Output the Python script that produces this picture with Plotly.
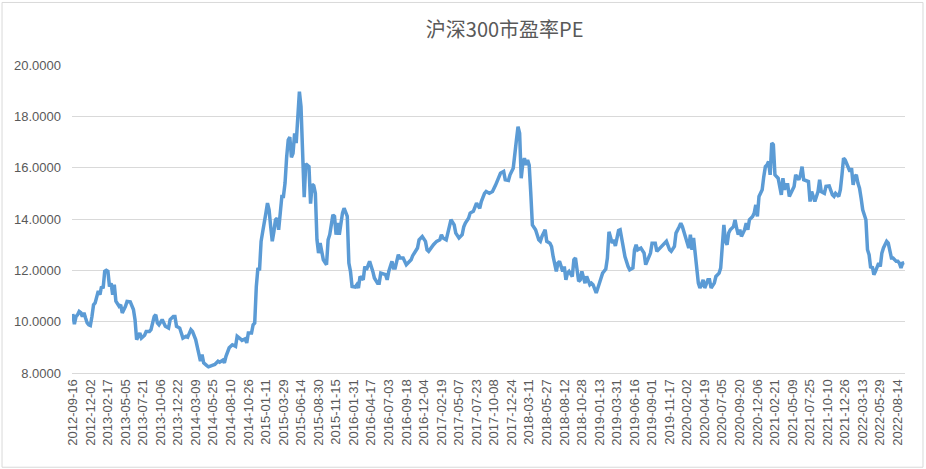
import numpy as np
import pandas as pd
import plotly.graph_objects as go

week_offset = [
    0, 1, 2, 3, 4, 5, 6, 7, 8, 9,
    10, 11, 12, 13, 14, 15, 16, 17, 18, 19,
    20, 21, 22, 23, 24, 25, 26, 27, 28, 29,
    30, 31, 33, 34, 36, 38, 39, 40, 42, 43,
    45, 46, 48, 49, 51, 52, 53, 54, 56, 57,
    58, 60, 61, 63, 64, 65, 67, 68, 69, 71,
    72, 74, 75, 77, 78, 79, 80, 81, 82, 84,
    85, 87, 89, 91, 92, 94, 95, 96, 98, 99,
    100, 102, 103, 105, 106, 108, 109, 110, 112, 113,
    114, 115, 116, 117, 118, 119, 120, 121, 122, 123,
    124, 125, 126, 127, 128, 129, 130, 131, 132, 133,
    134, 135, 136, 137, 138, 139, 140, 141, 142, 143,
    144, 145, 146, 147, 148, 149, 150, 151, 152, 153,
    154, 155, 156, 157, 159, 160, 161, 163, 164, 165,
    166, 167, 169, 170, 172, 173, 174, 175, 177, 178,
    179, 180, 182, 183, 184, 185, 186, 188, 189, 191,
    192, 193, 196, 197, 198, 200, 201, 202, 204, 205,
    207, 209, 210, 212, 213, 215, 216, 217, 219, 221,
    222, 223, 225, 226, 228, 230, 231, 232, 234, 236,
    237, 239, 240, 242, 244, 245, 246, 248, 249, 251,
    252, 253, 255, 256, 258, 259, 261, 263, 265, 267,
    268, 270, 271, 273, 274, 276, 277, 278, 279, 280,
    281, 282, 283, 284, 285, 286, 287, 288, 290, 292,
    293, 294, 296, 297, 299, 300, 301, 303, 304, 305,
    307, 308, 309, 310, 311, 313, 314, 315, 317, 318,
    319, 321, 322, 324, 325, 326, 328, 329, 330, 332,
    334, 335, 336, 338, 339, 340, 342, 343, 345, 346,
    348, 349, 351, 352, 353, 354, 356, 358, 359, 361,
    362, 363, 365, 366, 368, 370, 371, 372, 374, 375,
    377, 378, 380, 381, 382, 384, 385, 386, 387, 388,
    389, 390, 391, 392, 393, 395, 396, 398, 399, 400,
    402, 403, 405, 406, 407, 408, 409, 410, 411, 412,
    414, 415, 416, 417, 418, 419, 421, 422, 423, 424,
    426, 427, 428, 429, 430, 432, 433, 434, 435, 436,
    437, 438, 439, 440, 442, 443, 444, 445, 446, 447,
    448, 449, 451, 452, 453, 454, 455, 456, 457, 458,
    460, 461, 462, 463, 465, 466, 467, 468, 469, 471,
    472, 474, 476, 477, 478, 480, 481, 482, 483, 484,
    485, 487, 488, 489, 490, 491, 492, 493, 494, 495,
    497, 498, 499, 500, 501, 502, 503, 505, 506, 507,
    508, 510, 511, 512, 513, 514, 516, 517, 518, 519,
    520, 521,
]

pe_ratio = [
    10.3, 9.9, 10.2, 10.27, 10.4, 10.35, 10.2, 10.35, 10.14, 9.95,
    9.88, 9.85, 10.2, 10.66, 10.73, 11.0, 11.2, 11.05, 11.37, 11.3,
    11.96, 12.0, 11.96, 11.37, 11.5, 11.05, 11.44, 10.8, 10.7, 10.6,
    10.66, 10.34, 10.6, 10.79, 10.77, 10.47, 10.08, 9.3, 9.56, 9.36,
    9.47, 9.62, 9.62, 9.69, 10.2, 10.27, 9.95, 9.88, 10.08, 9.95,
    9.82, 9.75, 10.08, 10.2, 10.2, 9.82, 9.75, 9.56, 9.36, 9.43,
    9.4, 9.69, 9.62, 9.3, 9.04, 8.65, 8.46, 8.72, 8.4, 8.29,
    8.24, 8.29, 8.33, 8.46, 8.42, 8.5, 8.4, 8.65, 8.98, 9.04,
    9.1, 9.04, 9.43, 9.33, 9.27, 9.33, 9.17, 9.56, 9.56, 9.88,
    9.95, 11.37, 12.09, 12.0, 13.13, 13.5, 13.8, 14.23, 14.62, 14.36,
    13.7, 13.13, 13.5, 13.97, 14.03, 13.58, 14.23, 14.88, 14.88, 15.4,
    16.4, 17.08, 17.19, 16.4, 16.56, 17.34, 16.96, 18.3, 18.96, 18.38,
    16.82, 14.85, 16.15, 16.1, 16.04, 14.6, 15.35, 15.3, 15.0, 13.2,
    12.67, 13.06, 12.67, 12.41, 12.22, 13.19, 13.39, 14.16, 14.1, 13.39,
    13.84, 13.39, 14.23, 14.42, 14.1, 12.28, 11.96, 11.37, 11.35, 11.44,
    11.31, 11.76, 11.63, 12.15, 12.02, 12.15, 12.35, 11.96, 11.7, 11.5,
    11.5, 11.89, 11.83, 11.63, 11.96, 12.35, 12.09, 12.09, 12.61, 12.48,
    12.48, 12.22, 12.28, 12.41, 12.57, 12.74, 12.87, 13.19, 13.32, 13.13,
    12.8, 12.74, 12.93, 13.0, 13.13, 13.19, 13.39, 13.26, 13.19, 13.64,
    13.97, 13.77, 13.45, 13.26, 13.39, 13.7, 13.84, 14.03, 14.23, 14.3,
    14.49, 14.62, 14.42, 14.68, 15.0, 15.07, 15.0, 15.07, 15.33, 15.59,
    15.78, 15.85, 15.53, 15.5, 15.72, 15.98, 16.43, 17.08, 17.6, 17.34,
    15.59, 16.17, 16.37, 16.1, 16.3, 16.1, 15.0, 13.77, 13.58, 13.19,
    13.13, 13.32, 13.58, 13.13, 13.06, 12.93, 12.54, 11.96, 12.28, 12.35,
    11.96, 12.15, 11.63, 11.89, 11.96, 11.76, 12.41, 12.48, 11.57, 11.63,
    11.96, 11.5, 11.76, 11.44, 11.5, 11.44, 11.12, 11.37, 11.5, 11.89,
    12.05, 12.48, 13.5, 13.06, 13.19, 12.95, 13.55, 13.58, 12.93, 12.54,
    12.15, 12.02, 12.09, 12.8, 13.0, 12.8, 12.87, 12.67, 12.22, 12.54,
    12.67, 13.06, 13.06, 12.74, 12.87, 13.0, 13.06, 13.13, 12.8, 12.74,
    12.93, 13.45, 13.7, 13.84, 13.7, 13.32, 13.06, 12.87, 13.39, 12.8,
    13.26, 12.74, 12.02, 11.5, 11.31, 11.63, 11.31, 11.63, 11.63, 11.31,
    11.5, 11.76, 11.89, 12.09, 12.93, 13.77, 13.13, 13.0, 13.45, 13.58,
    13.7, 13.97, 13.64, 13.39, 13.58, 13.32, 13.58, 13.84, 13.58, 13.97,
    14.1, 14.23, 14.55, 14.1, 14.88, 15.14, 15.65, 16.04, 16.1, 16.24,
    15.72, 16.96, 16.89, 15.72, 15.59, 15.27, 14.94, 15.59, 15.14, 15.33,
    15.33, 14.88, 15.2, 15.27, 15.72, 15.59, 15.53, 15.72, 16.04, 15.53,
    15.46, 15.46, 14.68, 15.07, 14.68, 14.88, 15.07, 15.53, 15.07, 15.0,
    15.27, 15.29, 14.94, 14.88, 15.0, 14.88, 15.14, 15.72, 16.37, 16.3,
    16.17, 15.85, 15.98, 15.33, 15.65, 15.72, 15.4, 15.2, 14.81, 14.36,
    13.97, 12.8, 12.61, 12.09, 12.15, 11.83, 11.96, 12.28, 12.15, 12.67,
    12.87, 13.13, 13.06, 12.8, 12.48, 12.48, 12.35, 12.35, 12.28, 12.09,
    12.28, 12.3,
]

tick_labels = [
    "2012-09-16", "2012-12-02", "2013-02-17", "2013-05-05", "2013-07-21",
    "2013-10-06", "2013-12-22", "2014-03-09", "2014-05-25", "2014-08-10",
    "2014-10-26", "2015-01-11", "2015-03-29", "2015-06-14", "2015-08-30",
    "2015-11-15", "2016-01-31", "2016-04-17", "2016-07-03", "2016-09-18",
    "2016-12-04", "2017-02-19", "2017-05-07", "2017-07-23", "2017-10-08",
    "2017-12-24", "2018-03-11", "2018-05-27", "2018-08-12", "2018-10-28",
    "2019-01-13", "2019-03-31", "2019-06-16", "2019-09-01", "2019-11-17",
    "2020-02-02", "2020-04-19", "2020-07-05", "2020-09-20", "2020-12-06",
    "2021-02-21", "2021-05-09", "2021-07-25", "2021-10-10", "2021-12-26",
    "2022-03-13", "2022-05-29", "2022-08-14",
]

title_text = "沪深300市盈率PE"
start_date = pd.Timestamp("2012-09-16")

assert len(week_offset) == len(pe_ratio)
dates = start_date + pd.to_timedelta(np.array(week_offset) * 7, unit="D")
x_start = start_date - pd.Timedelta(days=3.5)
x_end = start_date + pd.Timedelta(days=7 * max(week_offset) + 3.5)

fig = go.Figure()
fig.add_trace(go.Scatter(
    x=dates, y=pe_ratio, mode="lines",
    line=dict(color="#5B9BD5", width=3.5),
    hoverinfo="x+y", showlegend=False,
))

grey = "#595959"
fig.update_layout(
    width=926, height=469,
    margin=dict(l=72, r=21, t=65, b=96),
    paper_bgcolor="white", plot_bgcolor="white",
    title=dict(text=title_text, x=0.545, xanchor="center", y=0.935, yanchor="middle",
               font=dict(family="Noto Sans CJK SC", size=20, color=grey)),
    font=dict(family="Liberation Sans, Arial", size=13, color=grey),
    xaxis=dict(
        type="date", range=[x_start, x_end],
        tickmode="array", tickvals=list(pd.to_datetime(tick_labels)), ticktext=tick_labels,
        tickangle=-90, tickfont=dict(size=13, color=grey),
        showgrid=False, showline=True, linecolor="#d9d9d9", linewidth=1,
        ticks="", zeroline=False,
    ),
    yaxis=dict(
        range=[8, 20], dtick=2, tick0=8, tickformat=".4f",
        showgrid=True, gridcolor="#d9d9d9", gridwidth=1,
        zeroline=False, showline=False, ticks="", ticklabelstandoff=10,
        tickfont=dict(size=13, color=grey),
    ),
    shapes=[dict(type="rect", xref="paper", yref="paper",
                 x0=-0.084, x1=1.0216, y0=-0.306, y1=1.203,
                 line=dict(color="#d9d9d9", width=1), fillcolor="rgba(0,0,0,0)", layer="below")],
)

fig.write_html(
    "out.html",
    config={"displayModeBar": False},
    post_script="document.body.style.margin='0';document.body.style.overflow='hidden';",
)
